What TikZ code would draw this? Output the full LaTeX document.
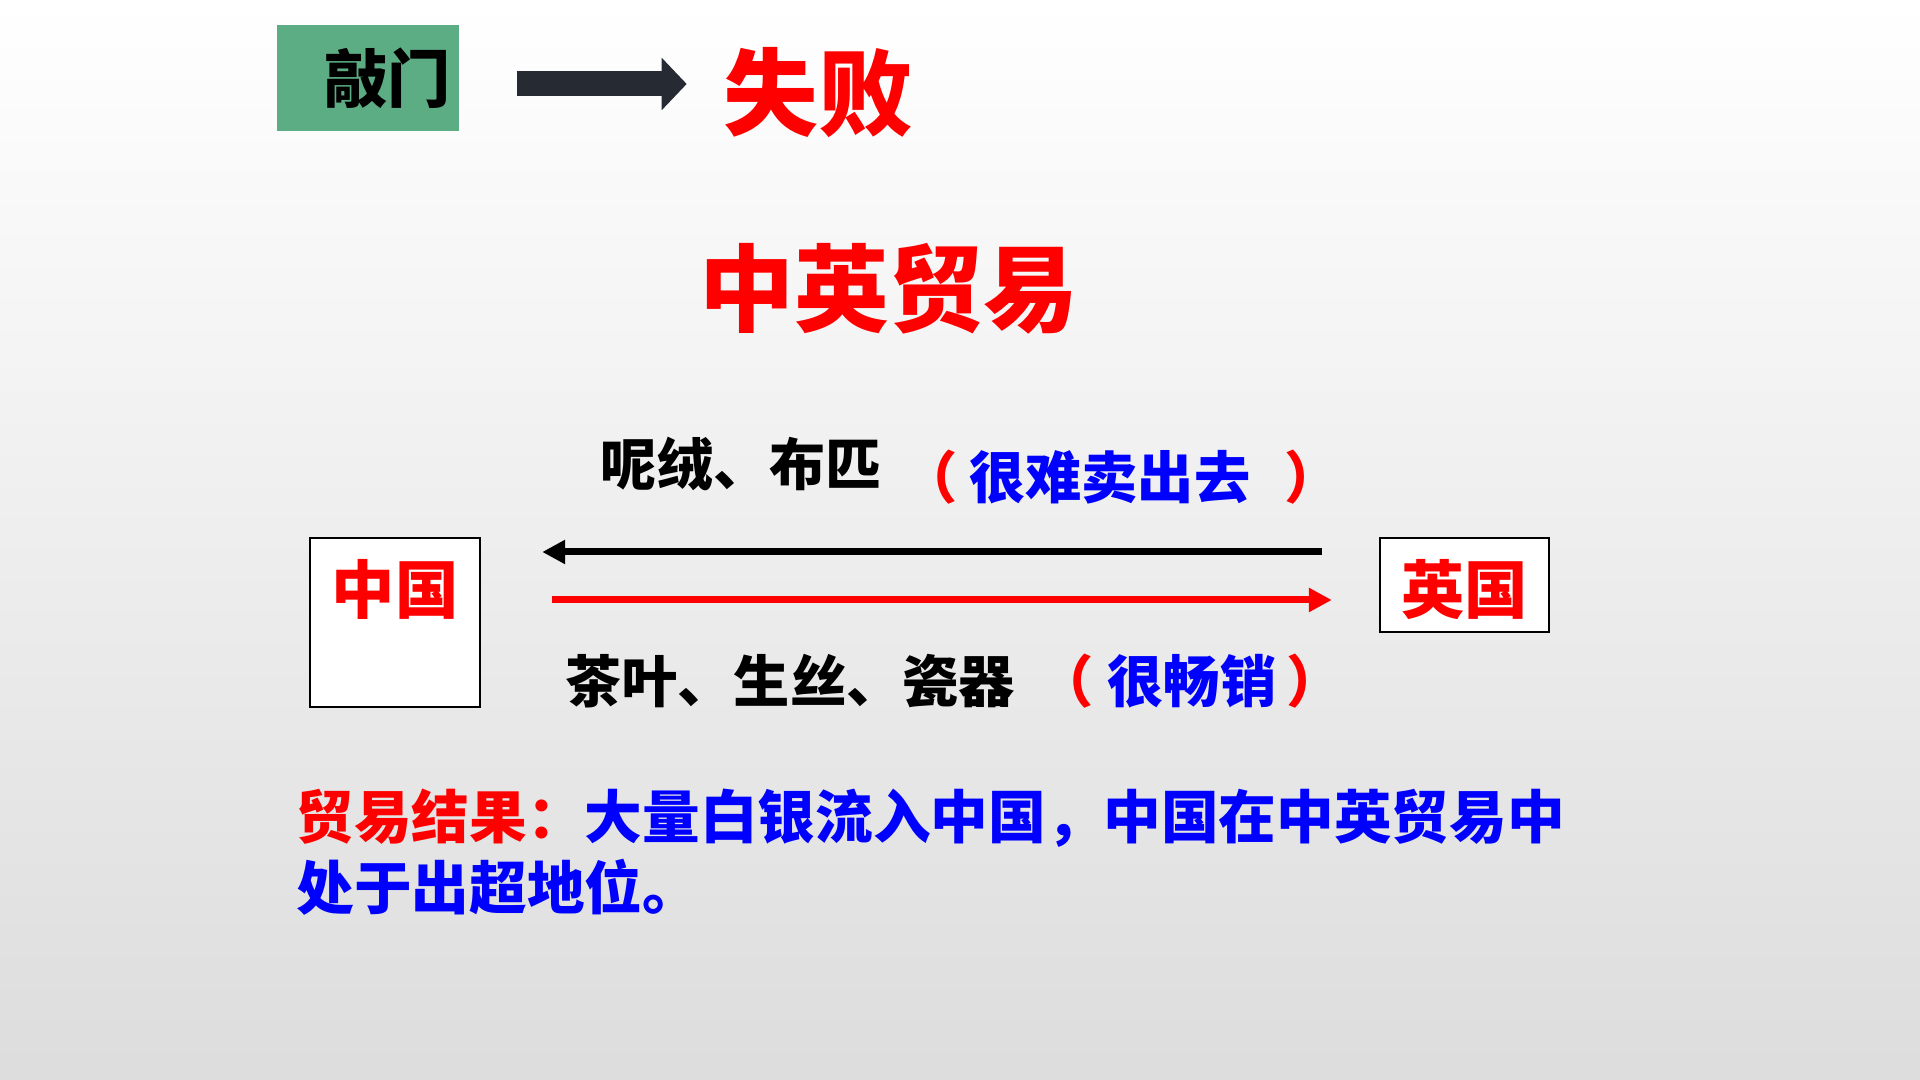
\documentclass[tikz,border=0pt]{standalone}
\usepackage{fontspec}
\newfontfamily\cjk{Noto Sans CJK SC}
\usetikzlibrary{positioning,arrows.meta}
\definecolor{doorgreen}{RGB}{92,172,132}
\definecolor{arrowdark}{RGB}{38,42,50}
\tikzset{
  doorbox/.style={fill=doorgreen,minimum width=1.82cm,minimum height=1.06cm,inner sep=0.8mm,
    text width=1.66cm,align=right,font=\cjk\bfseries\fontsize{18}{20}\selectfont},
  headline/.style={text=red,font=\cjk\bfseries\fontsize{27}{30}\selectfont},
  countrybox/.style={draw=black,line width=0.7pt,fill=white,minimum width=1.70cm,inner sep=0pt,
    label={[text=red,anchor=north,yshift=-1mm,font=\cjk\bfseries\fontsize{18}{20}\selectfont]north:#1}},
  goods/.style={font=\cjk\bfseries\fontsize{16}{18}\selectfont},
  verdict/.style={goods,text=blue},
  fatarrow/.style={arrowdark,line width=0.25cm,-{Triangle[width=0.51cm,length=0.25cm]}},
  tradearrow/.style={line width=0.07cm,-{Triangle[width=0.23cm,length=0.23cm]}},
}

\begin{document}
\begin{tikzpicture}
  \shade[top color=white,bottom color=gray!27] (0,0) rectangle (19.2,10.8);
  \useasboundingbox (0,0) rectangle (19.2,10.8);
  \node[doorbox] (knock) at (3.68,10.02) {敲门};
  \node[headline] (fail) at (8.18,9.87) {失败};
  \draw[fatarrow,shorten <=5.7mm,shorten >=2.4mm] ([yshift=-0.6mm]knock.east) -- ([yshift=-0.6mm]knock.east -| fail.west);
  \node[headline] (title) at (8.89,7.91) {中英贸易};
  \node[countrybox=中国,minimum height=1.69cm] (china) at (3.95,4.575) {};
  \node[countrybox=英国,minimum height=0.94cm,minimum width=1.69cm] (britain) at (14.645,4.95) {};
  \draw[tradearrow,shorten <=5.7mm,shorten >=6.1mm] ([yshift=3.3mm]britain.west) -- ([yshift=3.3mm]britain.west -| china.east);
  \draw[tradearrow,red,shorten <=7.1mm,shorten >=4.7mm] ([yshift=-1.5mm]britain.west -| china.east) -- ([yshift=-1.5mm]britain.west);
  \node[goods] (wool) at (7.415,6.15) {呢绒、布匹};
  \node[verdict] (hard) at (11.21,6.03) {{\color{red}（}\hspace{0.2em}很难卖出去\hspace{0.6em}{\color{red}）}};
  \node[goods] (tea) at (7.9,3.99) {茶叶、生丝、瓷器};
  \node[verdict] (sells) at (11.9,3.99) {{\color{red}（}\hspace{0.25em}很畅销\hspace{0.18em}{\color{red}）}};
  \node[verdict,anchor=west,align=left,inner sep=0pt,font=\cjk\bfseries\fontsize{16.4}{20.2}\selectfont] (result) at (2.96,2.275)
    {{\color{red}贸易结果：}大量白银流入中国，中国在中英贸易中\\处于出超地位。};
\end{tikzpicture}
\end{document}
